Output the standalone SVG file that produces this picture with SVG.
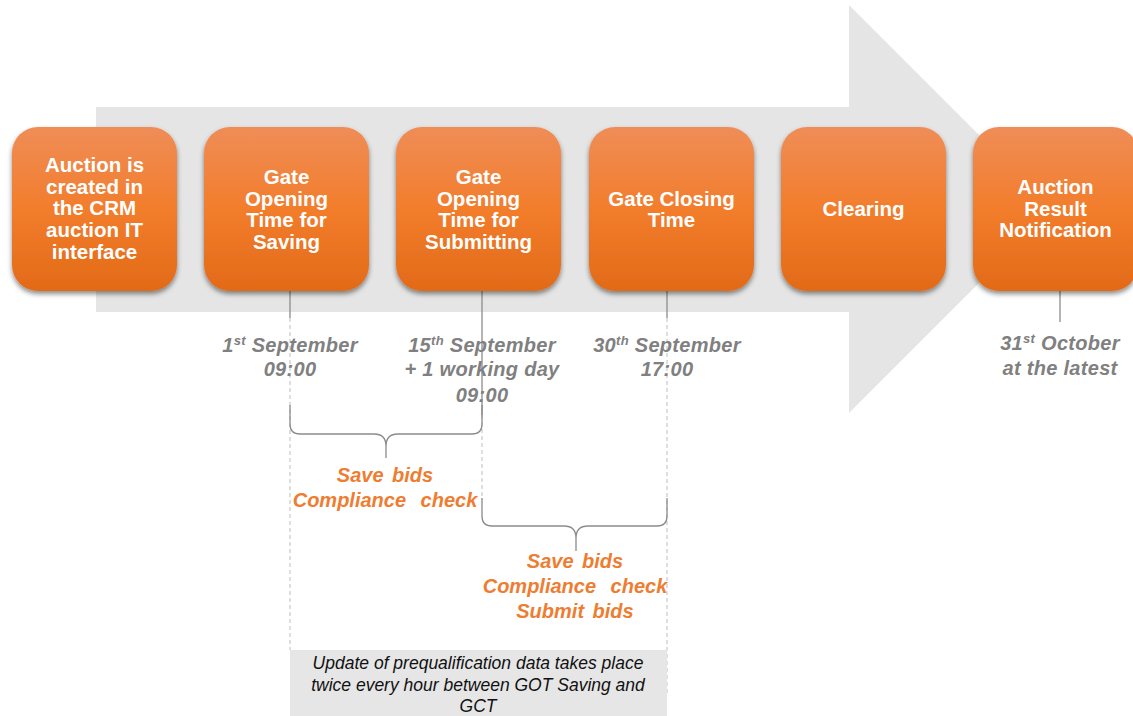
<svg xmlns="http://www.w3.org/2000/svg" width="1133" height="716" viewBox="0 0 1133 716">
<defs>
<linearGradient id="og" x1="0" y1="0" x2="0" y2="1">
<stop offset="0" stop-color="#EF8D57"/>
<stop offset="0.5" stop-color="#F27D2C"/>
<stop offset="1" stop-color="#E26A17"/>
</linearGradient>
<filter id="sh" x="-10%" y="-10%" width="125%" height="125%">
<feDropShadow dx="0" dy="3" stdDeviation="2.5" flood-color="#000" flood-opacity="0.45"/>
</filter>
<style>
.box{fill:url(#og);filter:url(#sh);}
.bt{font-family:"Liberation Sans",Arial,sans-serif;font-weight:bold;font-size:20.5px;fill:#fff;text-anchor:middle;}
.dt{font-family:"Liberation Sans",Arial,sans-serif;font-weight:bold;font-style:italic;font-size:20px;fill:#808080;text-anchor:middle;letter-spacing:0.3px;}
.sup{font-size:13px;}
.ot{font-family:"Liberation Sans",Arial,sans-serif;font-weight:bold;font-style:italic;font-size:20px;fill:#EE7D31;text-anchor:middle;word-spacing:3px;}
.ws{word-spacing:9px;}
.nt{font-family:"Liberation Sans",Arial,sans-serif;font-style:italic;font-size:17.5px;fill:#111;text-anchor:middle;}
.sl{stroke:#8C8C8C;stroke-width:1.3;fill:none;}
.dl{stroke:#BDBDBD;stroke-width:1;stroke-dasharray:4 3;fill:none;}
</style>
</defs>
<polygon points="96,107 849,107 849,5 1053,209 849,413 849,312 96,312" fill="#E5E5E5"/>
<g id="connectors">
<line class="dl" x1="290" y1="318" x2="290" y2="650"/>
<line class="dl" x1="482" y1="415" x2="482" y2="500"/>
<line class="dl" x1="667" y1="318" x2="667" y2="693"/>
<line class="sl" x1="290" y1="291" x2="290" y2="318"/>
<line class="sl" x1="482" y1="291" x2="482" y2="415"/>
<line class="sl" x1="667" y1="291" x2="667" y2="318"/>
<line class="sl" x1="1060" y1="291" x2="1060" y2="322"/>
<path class="sl" d="M290,405 V424 Q290,434 300,434 H374 Q386,434 386,446 V458 M386,458 V446 Q386,434 398,434 H472 Q482,434 482,424 V405"/>
<path class="sl" d="M482,498 V516 Q482,526 492,526 H564 Q576,526 576,538 V551 M576,551 V538 Q576,526 588,526 H657 Q667,526 667,516 V498"/>
</g>
<g id="n1"><rect class="box" x="12" y="127" width="165" height="164" rx="26"/>
<text class="bt" x="94.5"><tspan x="94.5" y="172">Auction is</tspan><tspan x="94.5" y="194">created in</tspan><tspan x="94.5" y="215">the CRM</tspan><tspan x="94.5" y="237">auction IT</tspan><tspan x="94.5" y="259">interface</tspan></text></g>
<g id="n2"><rect class="box" x="204" y="127" width="165" height="164" rx="26"/>
<text class="bt"><tspan x="286.5" y="184">Gate</tspan><tspan x="286.5" y="205.5">Opening</tspan><tspan x="286.5" y="227">Time for</tspan><tspan x="286.5" y="248.5">Saving</tspan></text></g>
<g id="n3"><rect class="box" x="396" y="127" width="165" height="164" rx="26"/>
<text class="bt"><tspan x="478.5" y="184">Gate</tspan><tspan x="478.5" y="205.5">Opening</tspan><tspan x="478.5" y="227">Time for</tspan><tspan x="478.5" y="248.5">Submitting</tspan></text></g>
<g id="n4"><rect class="box" x="589" y="127" width="165" height="164" rx="26"/>
<text class="bt"><tspan x="671.5" y="205.5">Gate Closing</tspan><tspan x="671.5" y="227">Time</tspan></text></g>
<g id="n5"><rect class="box" x="781" y="127" width="165" height="164" rx="26"/>
<text class="bt"><tspan x="863.5" y="216">Clearing</tspan></text></g>
<g id="n6"><rect class="box" x="973" y="127" width="165" height="164" rx="26"/>
<text class="bt"><tspan x="1055.5" y="194">Auction</tspan><tspan x="1055.5" y="215.5">Result</tspan><tspan x="1055.5" y="237">Notification</tspan></text></g>
<g id="dates">
<text class="dt" x="290" y="352">1<tspan class="sup" dy="-7">st</tspan><tspan dy="7"> September</tspan></text>
<text class="dt" x="290" y="376">09:00</text>
<text class="dt" x="482" y="352">15<tspan class="sup" dy="-7">th</tspan><tspan dy="7"> September</tspan></text>
<text class="dt" x="482" y="376">+ 1 working day</text>
<text class="dt" x="482" y="402">09:00</text>
<text class="dt" x="667" y="352">30<tspan class="sup" dy="-7">th</tspan><tspan dy="7"> September</tspan></text>
<text class="dt" x="667" y="376">17:00</text>
<text class="dt" x="1060" y="350">31<tspan class="sup" dy="-7">st</tspan><tspan dy="7"> October</tspan></text>
<text class="dt" x="1060" y="375">at the latest</text>
</g>
<g id="activities">
<text class="ot" x="385" y="482">Save bids</text>
<text class="ot ws" x="385" y="507">Compliance check</text>
<text class="ot" x="575" y="568">Save bids</text>
<text class="ot ws" x="575" y="593">Compliance check</text>
<text class="ot" x="575" y="618">Submit bids</text>
</g>
<g id="note">
<rect x="290" y="650" width="377" height="66" fill="#E6E6E6"/>
<text class="nt"><tspan x="478" y="669">Update of prequalification data takes place</tspan><tspan x="478" y="691">twice every hour between GOT Saving and</tspan><tspan x="478" y="712">GCT</tspan></text>
</g>
</svg>
